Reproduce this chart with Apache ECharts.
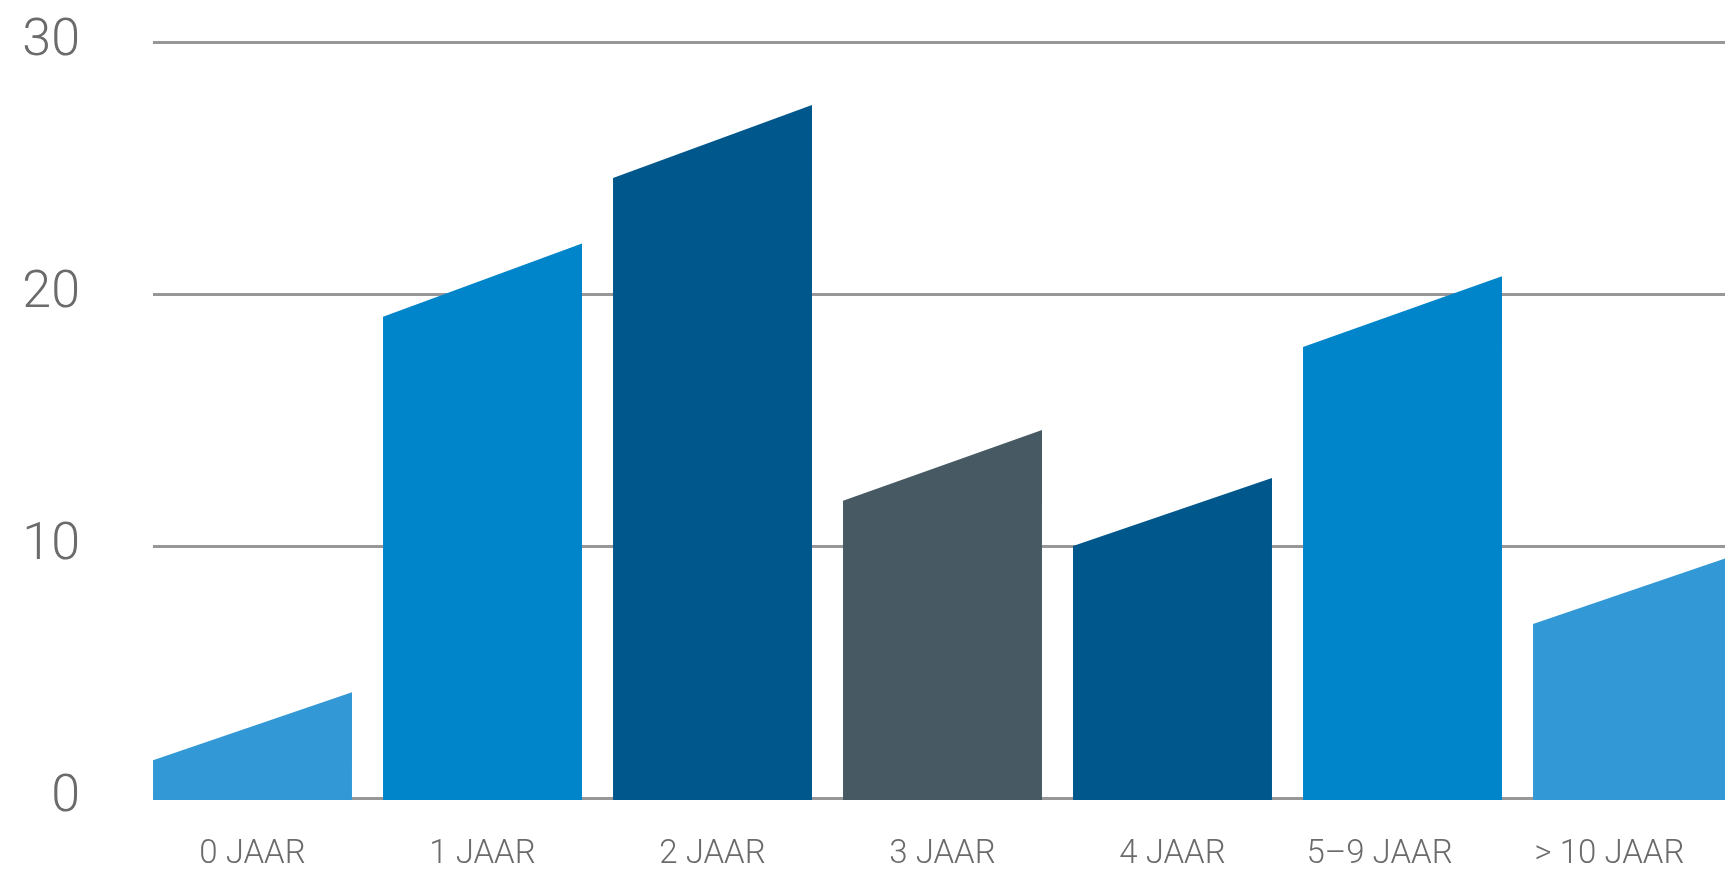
<!DOCTYPE html>
<html>
<head>
<meta charset="utf-8">
<script src="https://cdn.jsdelivr.net/npm/echarts@6/dist/echarts.min.js"></script>
<style>
html,body{margin:0;padding:0;background:#ffffff;}
#chart{width:1725px;height:876px;}
</style>
</head>
<body>
<div id="chart"></div>
<script>
// ---- data ----
const categories = ['0 JAAR', '1 JAAR', '2 JAAR', '3 JAAR', '4 JAAR', '5–9 JAAR', '> 10 JAAR'];
const startValues = [1.5, 19.1, 24.6, 11.8, 10.0, 17.9, 6.9];   // height at the left edge of each bar
const endValues   = [4.2, 22.0, 27.5, 14.6, 12.7, 20.7, 9.6];   // height at the right edge of each bar
const yTicks = [0, 10, 20, 30];

// ---- styles ----
const barColors = ['#3399d6', '#0085ca', '#00578b', '#475a63', '#00578b', '#0085ca', '#3399d6'];
const gridColor = '#97979a';
const textColor = '#6b6b6e';

const seriesData = categories.map((c, i) => [i, startValues[i], endValues[i]]);

const chart = echarts.init(document.getElementById('chart'), null, {renderer: 'canvas'});
chart.setOption({
  animation: false,
  backgroundColor: '#ffffff',
  grid: [
    {left: 153, right: 0, top: 42, bottom: 78, containLabel: false, outerBoundsMode: 'none'},
    {left: 137.5, width: 1610, top: 42, bottom: 78, containLabel: false, outerBoundsMode: 'none'}
  ],
  xAxis: [
    {gridIndex: 0, type: 'value', show: false, min: 0, max: 1},
    {
      gridIndex: 1, type: 'category', data: categories, boundaryGap: true,
      axisLine: {show: false}, axisTick: {show: false},
      axisLabel: {
        interval: 0, hideOverlap: false,
        margin: 40,
        fontFamily: 'Roboto', fontWeight: 300, fontSize: 33, color: textColor,
        formatter: function (v) { return v.length > 6 ? '{s|' + v + '}' : v; },
        rich: {s: {fontFamily: 'Roboto', fontWeight: 300, fontSize: 33, color: textColor, padding: [0, 46, 0, 0]}}
      }
    }
  ],
  yAxis: [
    {
      gridIndex: 0, type: 'value', min: yTicks[0], max: yTicks[yTicks.length - 1], interval: 10,
      axisLine: {show: false}, axisTick: {show: false},
      axisLabel: {margin: 73, fontFamily: 'Roboto', fontWeight: 300, fontSize: 52, color: textColor, padding: [14, 0, 0, 0]},
      splitLine: {show: true, lineStyle: {color: gridColor, width: 3}}
    },
    {
      gridIndex: 1, type: 'value', min: yTicks[0], max: yTicks[yTicks.length - 1], interval: 10,
      show: false, splitLine: {show: false}
    }
  ],
  series: [{
    type: 'custom',
    xAxisIndex: 1, yAxisIndex: 1,
    data: seriesData,
    encode: {x: 0, y: [1, 2]},
    renderItem: function (params, api) {
      const i = api.value(0);
      const base = api.coord([i, 0]);
      const band = api.size([1, 0])[0];
      const w = band * 0.865;
      const pl = api.coord([i, api.value(1)]);
      const pr = api.coord([i, api.value(2)]);
      const x0 = base[0] - w / 2, x1 = base[0] + w / 2;
      const yb = base[1] + 2;
      return {
        type: 'polygon',
        shape: {points: [[x0, yb], [x0, pl[1]], [x1, pr[1]], [x1, yb]]},
        style: {fill: barColors[i]}
      };
    }
  }]
});
</script>
</body>
</html>
